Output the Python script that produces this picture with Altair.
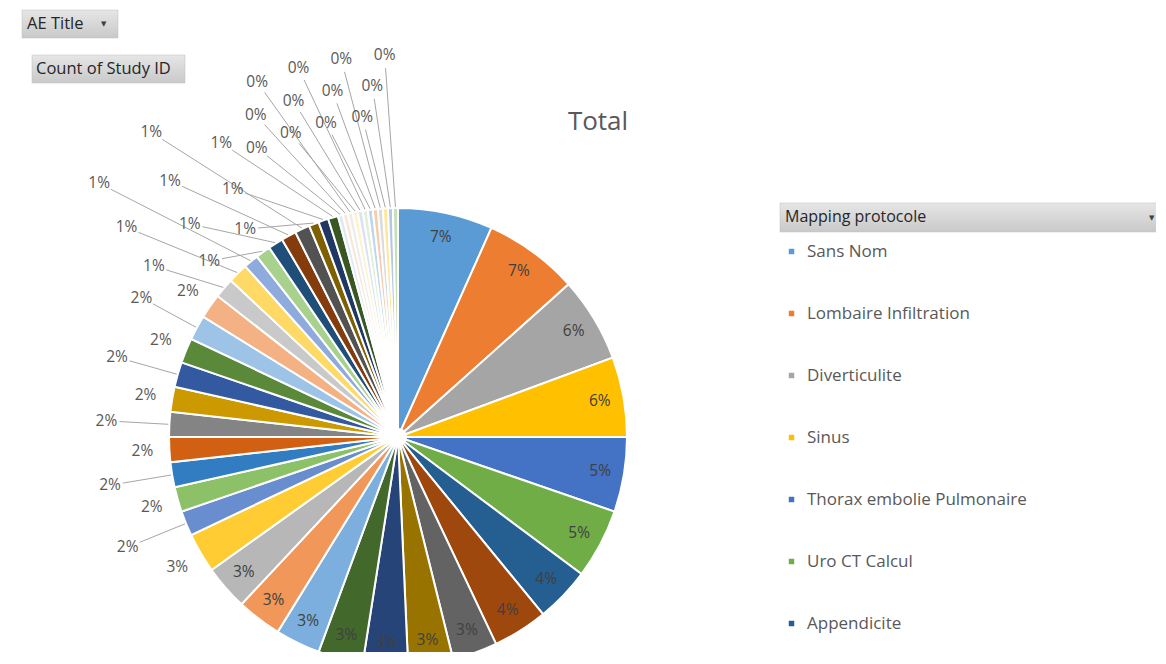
import math
import numpy as np
import pandas as pd
import altair as alt

# ---------------- data ----------------
named = ["Sans Nom", "Lombaire Infiltration", "Diverticulite", "Sinus",
         "Thorax embolie Pulmonaire", "Uro CT Calcul", "Appendicite"]
categories = named + [f"Protocole {i}" for i in range(8, 49)]

counts = [19, 19, 17, 16, 15, 14, 11, 11,
          9, 9, 9, 9, 9, 9, 9, 8,
          5, 5, 5, 5, 5, 5, 5, 5, 5, 5,
          4, 4, 3, 3, 3, 3, 3, 2, 2, 2,
          1, 1, 1, 1, 1, 1, 1, 1, 1, 1, 1, 1]

colors = ["#5B9BD5", "#ED7D31", "#A5A5A5", "#FFC000", "#4472C4", "#70AD47",
          "#255E91", "#9E480E", "#636363", "#997300", "#264478", "#43682B",
          "#7CAFDD", "#F1975A", "#B7B7B7", "#FFCD33", "#698ED0", "#8CC168",
          "#327DC2", "#D26012", "#848484", "#CC9A00", "#335AA1", "#5A8A39",
          "#9DC3E6", "#F4B183", "#C9C9C9", "#FFD966", "#8FAADC", "#A9D18E",
          "#1F4E79", "#843C0C", "#525252", "#7F6000", "#203864", "#385723",
          "#DEEBF7", "#FBE5D6", "#EDEDED", "#FFF2CC", "#DAE3F3", "#E2F0D9",
          "#BDD7EE", "#F8CBAD", "#DBDBDB", "#FFE699", "#B4C7E7", "#C5E0B4"]

# ---------------- layout ----------------
W, H = 1148, 644
CX, CY, R = 390, 429, 229
FONT = "Open Sans"
LBL = 15.5

v = np.array(counts, dtype=float)
T = v.sum()
n = len(v)
cum = np.concatenate([[0], np.cumsum(v)])
t0, t1 = cum[:-1], cum[1:]
mid = (t0 + t1) / 2
ang = mid / T * 2 * np.pi
pct = np.rint(100 * v / T).astype(int)
inside = v >= 9

lab_r = np.full(n, 205.0)
lab_a = ang.copy()
out = np.where(~inside)[0]
g2 = [i for i in out if pct[i] >= 2]
g1 = [i for i in out if pct[i] == 1]
g0 = [i for i in out if pct[i] == 0]
for j, i in enumerate(g2):
    lab_r[i] = [256, 292][j % 2]
a1 = np.radians(np.linspace(305, 329, len(g1)))
for j, i in enumerate(g1):
    lab_a[i] = a1[j]
    lab_r[i] = [298, 343, 392, 258][j % 4]
a0 = np.radians(np.linspace(334, 358, len(g0)))
for j, i in enumerate(g0):
    lab_a[i] = a0[j]
    lab_r[i] = [322, 352, 382][j % 3]

lx = CX + lab_r * np.sin(lab_a)
ly = CY - lab_r * np.cos(lab_a)
ex = CX + (R + 1) * np.sin(ang)
ey = CY - (R + 1) * np.cos(ang)
dist = np.hypot(lx - ex, ly - ey)
ux = (ex - lx) / np.maximum(dist, 1e-6)
uy = (ey - ly) / np.maximum(dist, 1e-6)
qx = lx + 13 * ux
qy = ly + 13 * uy

df = pd.DataFrame({
    "cat": categories, "count": counts, "t0": t0, "t1": t1,
    "lab": [f"{p}%" for p in pct], "lx": lx, "ly": ly,
    "inside": inside, "ex": ex, "ey": ey, "qx": qx, "qy": qy,
    "lead": (~inside) & (dist > 34),
})

xs = alt.Scale(domain=[0, W], range=[0, W])
ys = alt.Scale(domain=[0, H], range=[0, H])
ts = alt.Scale(domain=[0, T], range=[0, 2 * math.pi])

legend = alt.Legend(title=None, orient="none", legendX=775, legendY=235,
                    values=named, symbolType="square", symbolSize=30,
                    symbolStrokeWidth=0, labelFontSize=17, labelFont=FONT,
                    labelColor="#595959", rowPadding=44, labelOffset=7,
                    labelLimit=500, padding=0)

arcs = alt.Chart(df).mark_arc(radius=R, innerRadius=8, stroke="white",
                              strokeWidth=2).encode(
    theta=alt.Theta("t0:Q", scale=ts, stack=False),
    theta2="t1:Q",
    x=alt.value(CX), y=alt.value(CY),
    color=alt.Color("cat:N", scale=alt.Scale(domain=categories, range=colors),
                    legend=legend),
)

leaders = alt.Chart(df).transform_filter("datum.lead").mark_rule(
    color="#A6A6A6", strokeWidth=1).encode(
    x=alt.X("ex:Q", scale=xs, axis=None), y=alt.Y("ey:Q", scale=ys, axis=None),
    x2="qx:Q", y2="qy:Q")

in_labels = alt.Chart(df).transform_filter("datum.inside").mark_text(
    fontSize=LBL, font=FONT, color="#404040", align="center", baseline="middle").encode(
    x=alt.X("lx:Q", scale=xs, axis=None), y=alt.Y("ly:Q", scale=ys, axis=None),
    text="lab:N")

out_labels = alt.Chart(df).transform_filter("!datum.inside").mark_text(
    fontSize=LBL, font=FONT, color="#595959", align="center", baseline="middle").encode(
    x=alt.X("lx:Q", scale=xs, axis=None), y=alt.Y("ly:Q", scale=ys, axis=None),
    text="lab:N")

one = pd.DataFrame({"k": [0]})
grad = alt.LinearGradient(gradient="linear", x1=0, x2=0, y1=0, y2=1,
                          stops=[alt.GradientStop(color="#E6E6E6", offset=0),
                                 alt.GradientStop(color="#C9C9C9", offset=1)])


def box(x0, x1, y0, y1):
    return alt.Chart(one).mark_rect(fill=grad, stroke="#BDBDBD", strokeWidth=0.5).encode(
        x=alt.value(x0), x2=alt.value(x1), y=alt.value(y0), y2=alt.value(y1))


def label(txt, x, y, size=16.5, color="#262626", font=FONT, align="left"):
    return alt.Chart(one).mark_text(text=txt, fontSize=size, font=font, color=color,
                                    align=align, baseline="middle").encode(
        x=alt.value(x), y=alt.value(y))


decor = [
    box(14, 110, 2, 30), label("AE Title", 19, 16),
    label("▼", 93, 16, size=7, font="DejaVu Sans", color="#404040"),
    box(24, 177, 47, 75), label("Count of Study ID", 28, 61),
    box(772, 1152, 195, 224), label("Mapping protocole", 777, 209, size=16),
    label("▼", 1141, 210, size=7, font="DejaVu Sans", color="#404040"),
    label("Total", 590, 114, size=26, color="#595959", align="center"),
]

chart = alt.layer(arcs, leaders, in_labels, out_labels, *decor).properties(
    width=W, height=H, padding=0, autosize=alt.AutoSizeParams(type="none")
).configure_view(strokeWidth=0)

chart.save("out.html", embed_options={"renderer": "svg", "actions": False})
